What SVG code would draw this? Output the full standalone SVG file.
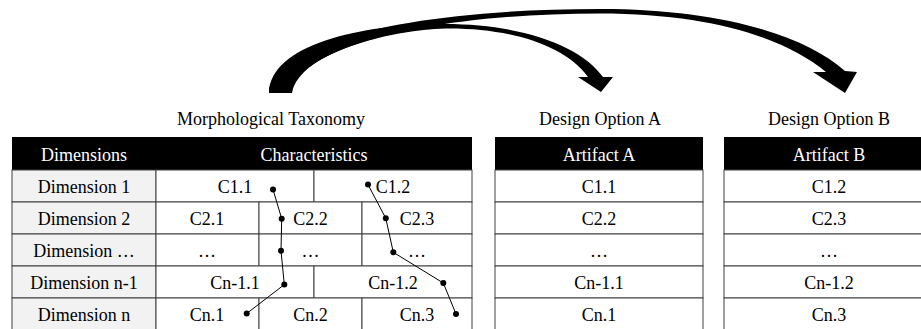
<svg xmlns="http://www.w3.org/2000/svg" width="921" height="329" viewBox="0 0 921 329" font-family="'Liberation Serif', 'Times New Roman', 'DejaVu Serif', serif">
<style>
text{font-family:'Liberation Serif','Times New Roman','DejaVu Serif',serif;font-size:18px;text-anchor:middle;fill:#000}
.hd{fill:#000}
text.hdt{fill:#fff}
.c{fill:#fff;stroke:#404040;stroke-width:1}
.d{fill:#f2f2f2;stroke:#404040;stroke-width:1}
.ln{fill:none;stroke:#000;stroke-width:1}
.dot{fill:#000}
.arr{fill:#000}
</style>
<rect width="921" height="329" fill="#fff"/>

<g id="connectors">
  <path class="arr" d="M269,93 C270,45 400,9 600,9 C720,9 805,35 845,71 L857,72 L845,93 L813,72 L826,72 C785,38 710,13.5 600,13.5 C420,13.5 295,50 292,93 Z"/>
  <path class="arr" d="M269,93 C270,45 360,24 445,24 C520,24 580,45 603,77 L613,77 L601,92 L578,77 L588,77 C565,45 510,28.5 450,28.5 C400,28.5 300,50 292,93 Z"/>
</g>

<g id="title-taxonomy"><text x="271" y="125">Morphological Taxonomy</text></g>
<g id="title-a"><text x="600" y="125">Design Option A</text></g>
<g id="title-b"><text x="829" y="125">Design Option B</text></g>

<g id="taxonomy">
  <rect class="hd" x="12" y="137" width="460" height="33"/>
  <text class="hdt" x="84" y="161">Dimensions</text>
  <text class="hdt" x="314" y="161">Characteristics</text>

  <rect class="d" x="12" y="170" width="144" height="32"/>
  <rect class="d" x="12" y="202" width="144" height="32"/>
  <rect class="d" x="12" y="234" width="144" height="32"/>
  <rect class="d" x="12" y="266" width="144" height="32"/>
  <rect class="d" x="12" y="298" width="144" height="32"/>

  <rect class="c" x="156" y="170" width="158" height="32"/>
  <rect class="c" x="314" y="170" width="158" height="32"/>
  <rect class="c" x="156" y="202" width="103" height="32"/>
  <rect class="c" x="259" y="202" width="103" height="32"/>
  <rect class="c" x="362" y="202" width="110" height="32"/>
  <rect class="c" x="156" y="234" width="103" height="32"/>
  <rect class="c" x="259" y="234" width="103" height="32"/>
  <rect class="c" x="362" y="234" width="110" height="32"/>
  <rect class="c" x="156" y="266" width="158" height="32"/>
  <rect class="c" x="314" y="266" width="158" height="32"/>
  <rect class="c" x="156" y="298" width="103" height="32"/>
  <rect class="c" x="259" y="298" width="103" height="32"/>
  <rect class="c" x="362" y="298" width="110" height="32"/>

  <text x="84" y="193">Dimension 1</text>
  <text x="84" y="225">Dimension 2</text>
  <text x="84" y="257">Dimension …</text>
  <text x="84" y="289">Dimension n-1</text>
  <text x="84" y="321">Dimension n</text>

  <text x="235" y="193">C1.1</text>
  <text x="393" y="193">C1.2</text>
  <text x="207" y="225">C2.1</text>
  <text x="310.5" y="225">C2.2</text>
  <text x="417" y="225">C2.3</text>
  <text x="207" y="257">…</text>
  <text x="310.5" y="257">…</text>
  <text x="417" y="257">…</text>
  <text x="235" y="289">Cn-1.1</text>
  <text x="393" y="289">Cn-1.2</text>
  <text x="207" y="321">Cn.1</text>
  <text x="310.5" y="321">Cn.2</text>
  <text x="417" y="321">Cn.3</text>
</g>

<g id="artifact-a">
  <rect class="hd" x="495" y="137" width="208" height="33"/>
  <text class="hdt" x="599" y="161">Artifact A</text>
  <rect class="c" x="495" y="170" width="208" height="32"/>
  <rect class="c" x="495" y="202" width="208" height="32"/>
  <rect class="c" x="495" y="234" width="208" height="32"/>
  <rect class="c" x="495" y="266" width="208" height="32"/>
  <rect class="c" x="495" y="298" width="208" height="32"/>
  <text x="599" y="193">C1.1</text>
  <text x="599" y="225">C2.2</text>
  <text x="599" y="257">…</text>
  <text x="599" y="289">Cn-1.1</text>
  <text x="599" y="321">Cn.1</text>
</g>

<g id="artifact-b">
  <rect class="hd" x="724" y="137" width="210" height="33"/>
  <text class="hdt" x="829" y="161">Artifact B</text>
  <rect class="c" x="724" y="170" width="210" height="32"/>
  <rect class="c" x="724" y="202" width="210" height="32"/>
  <rect class="c" x="724" y="234" width="210" height="32"/>
  <rect class="c" x="724" y="266" width="210" height="32"/>
  <rect class="c" x="724" y="298" width="210" height="32"/>
  <text x="829" y="193">C1.2</text>
  <text x="829" y="225">C2.3</text>
  <text x="829" y="257">…</text>
  <text x="829" y="289">Cn-1.2</text>
  <text x="829" y="321">Cn.3</text>
</g>

<g id="paths">
  <polyline class="ln" points="273,189.5 281.7,218.7 281,250.7 284.3,284.6 246.7,313.5"/>
  <polyline class="ln" points="368,184.6 385.8,218.3 393.3,252.3 443.3,283 456,314"/>
  <circle class="dot" cx="273" cy="189.5" r="3"/>
  <circle class="dot" cx="281.7" cy="218.7" r="3"/>
  <circle class="dot" cx="281" cy="250.7" r="3"/>
  <circle class="dot" cx="284.3" cy="284.6" r="3"/>
  <circle class="dot" cx="246.7" cy="313.5" r="3"/>
  <circle class="dot" cx="368" cy="184.6" r="3"/>
  <circle class="dot" cx="385.8" cy="218.3" r="3"/>
  <circle class="dot" cx="393.3" cy="252.3" r="3"/>
  <circle class="dot" cx="443.3" cy="283" r="3"/>
  <circle class="dot" cx="456" cy="314" r="3"/>
</g>
</svg>
